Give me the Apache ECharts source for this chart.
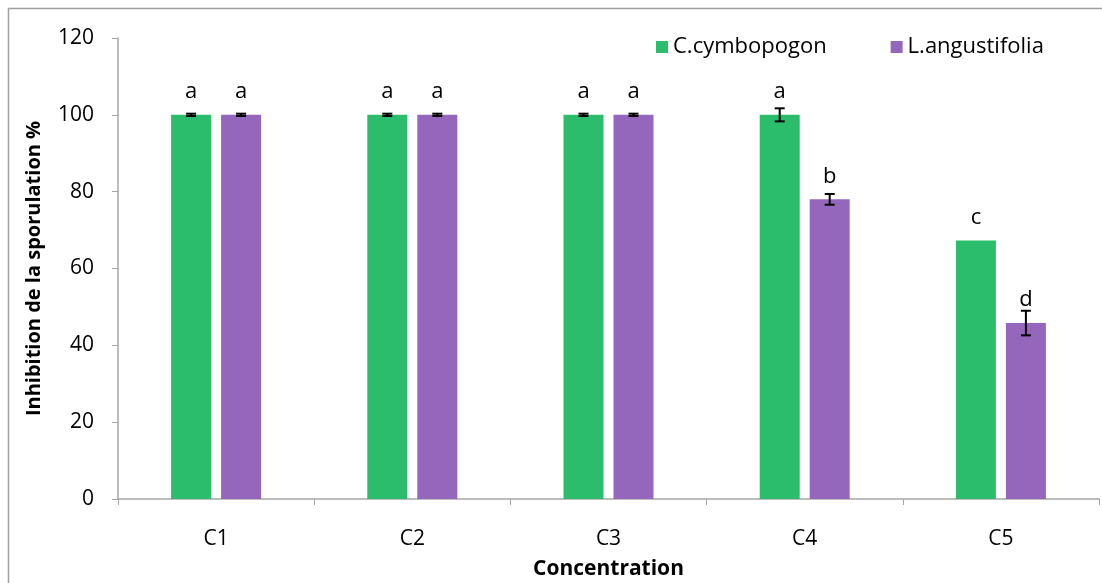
<!DOCTYPE html>
<html><head><meta charset="utf-8">
<script src="https://cdn.jsdelivr.net/npm/echarts@6/dist/echarts.min.js"></script>
<style>html,body{margin:0;padding:0;background:#fff}#c{width:1102px;height:583px}</style>
</head><body><div id="c"></div>
<script>
const categories = ['C1','C2','C3','C4','C5'];
const seriesNames = ['C.cymbopogon','L.angustifolia'];
const cymbopogon = [100,100,100,100,67.3];
const angustifolia = [100,100,100,78,45.8];
const cymbopogonErr = [0.3,0.3,0.3,1.7,0];
const angustifoliaErr = [0.3,0.3,0.3,1.4,3.2];
const cymbopogonLetters = ['a','a','a','a','c'];
const angustifoliaLetters = ['a','a','a','b','d'];
const yTicks = [0,20,40,60,80,100,120];

const colors = ['#2BBD6C','#9467BD'];
const font = 'Open Sans, Noto Sans, sans-serif';
const barWidth = 40, barGap = 10;

function errSeries(vals, errs, offset) {
  return {
    type: 'custom', z: 10,
    data: vals.map((v,i)=>[i, v, errs[i]]),
    renderItem: function(params, api){
      const i = api.value(0), v = api.value(1), e = api.value(2);
      if (!e) return null;
      const c = api.coord([i, v]);
      const x = c[0] + offset;
      const top = api.coord([i, v + e])[1];
      const bot = api.coord([i, v - e])[1];
      const st = {stroke:'#000', lineWidth:2};
      return {type:'group', children:[
        {type:'line', shape:{x1:x,y1:top,x2:x,y2:bot}, style:st},
        {type:'line', shape:{x1:x-5,y1:top,x2:x+5,y2:top}, style:st},
        {type:'line', shape:{x1:x-5,y1:bot,x2:x+5,y2:bot}, style:st}
      ]};
    }
  };
}

const chart = echarts.init(document.getElementById('c'));
chart.setOption({
  animation:false,
  color: colors,
  graphic:[{type:'rect', shape:{x:8.5,y:8.5,width:1100,height:580}, style:{fill:'none', stroke:'#A0A0A0', lineWidth:1.5}}],
  legend:{
    data: seriesNames, top: 31, left: 651, itemWidth: 12, itemHeight: 12, itemGap: 64,
    icon:'rect',
    textStyle:{fontFamily:font, fontSize:22, color:'#000'}
  },
  grid:{left:118, right:3, top:38, bottom:84, containLabel:false, outerBoundsMode:'none'},
  xAxis:{
    type:'category', data: categories,
    axisLine:{lineStyle:{color:'#A6A6A6', width:1.5}},
    axisTick:{show:true, length:6, lineStyle:{color:'#A6A6A6'}},
    axisLabel:{fontFamily:font, fontSize:21, color:'#000', margin:30},
    name:'Concentration', nameLocation:'middle', nameGap:60,
    nameTextStyle:{fontFamily:font, fontSize:21, fontWeight:'bold', color:'#000'}
  },
  yAxis:{
    type:'value', min:0, max:120, interval:20,
    axisLine:{show:true, lineStyle:{color:'#A6A6A6', width:1.5}},
    axisTick:{show:true, length:6, lineStyle:{color:'#A6A6A6'}},
    splitLine:{show:false},
    axisLabel:{fontFamily:font, fontSize:21, color:'#000', margin:24,
      formatter: v => yTicks.includes(v) ? String(v) : ''},
    name:'Inhibition de la sporulation %', nameLocation:'middle', nameGap:74,
    nameTextStyle:{fontFamily:font, fontSize:20, fontWeight:'bold', color:'#000'}
  },
  series:[
    {name:seriesNames[0], type:'bar', data:cymbopogon, barWidth:barWidth, barGap:'25%',
     label:{show:true, position:'top', distance:12, fontFamily:font, fontSize:22, color:'#000',
       formatter:p=>cymbopogonLetters[p.dataIndex]}},
    {name:seriesNames[1], type:'bar', data:angustifolia, barWidth:barWidth, barGap:'25%',
     label:{show:true, position:'top', distance:12, fontFamily:font, fontSize:22, color:'#000',
       formatter:p=>angustifoliaLetters[p.dataIndex]}},
    errSeries(cymbopogon, cymbopogonErr, -(barWidth+barGap)/2),
    errSeries(angustifolia, angustifoliaErr, (barWidth+barGap)/2)
  ]
});
</script></body></html>
